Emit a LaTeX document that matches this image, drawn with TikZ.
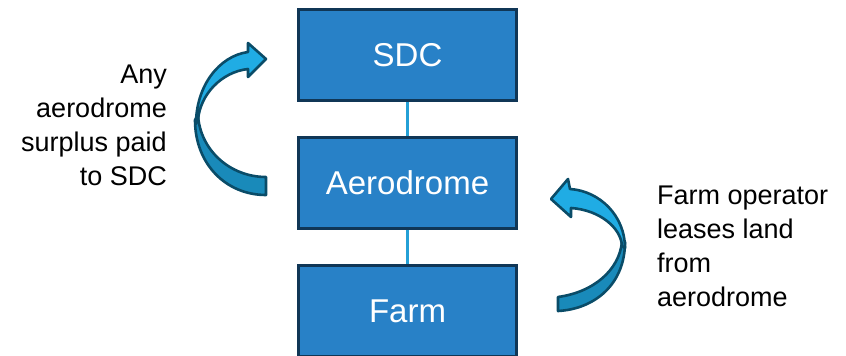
\documentclass[tikz,border=0pt]{standalone}
\usepackage{fontspec}
\setmainfont{Liberation Sans}
\usetikzlibrary{calc}

\definecolor{boxblue}{RGB}{40,129,199}
\definecolor{boxline}{RGB}{16,54,86}
\definecolor{linkblue}{RGB}{36,160,214}
\definecolor{arrowlight}{RGB}{32,172,228}
\definecolor{arrowdark}{RGB}{25,138,186}
\definecolor{arrowline}{RGB}{10,76,104}

\begin{document}
\begin{tikzpicture}[x=1pt, y=-1pt,
    block/.style={draw=boxline, line width=3pt, fill=boxblue, text=white,
        minimum width=218pt, minimum height=91pt, inner sep=0pt,
        font=\fontsize{33}{39}\selectfont},
    note/.style={inner sep=0pt, font=\fontsize{27}{34}\selectfont},
    link/.style={draw=linkblue, line width=2.2pt},
    twist/.style={draw=arrowline, line width=2.6pt, line join=round}]
    \useasboundingbox (0,0) rectangle (846,356);
    \clip (0,0) rectangle (846,356);

    \node[block] (sdc) at (407.5,55) {SDC};
    \node[block] (aero) at (407.5,183) {Aerodrome};
    \node[block] (farm) at (407.5,311) {Farm};

    \draw[link] (sdc) -- (aero);
    \draw[link] (aero) -- (farm);

    % surplus arrow, up to SDC
    \draw[twist, fill=arrowdark] (195,120) .. controls (195,164) and (226,195) .. (266,195)
        -- (266,177) .. controls (230,177) and (200,150) .. (198,115) -- cycle;
    \draw[twist, fill=arrowlight] (196,124) .. controls (196,86) and (219,56) .. (248,52)
        -- (248,43) -- (266,59) -- (248,77) -- (248,69)
        .. controls (221,72) and (200,95) .. (198,120) -- cycle;

    % lease arrow, up to aerodrome
    \draw[twist, fill=arrowdark] (625,242) .. controls (625,284) and (595,309) .. (558,311)
        -- (558,297) .. controls (594,292) and (619,270) .. (622,242) -- cycle;
    \draw[twist, fill=arrowlight] (625,248) .. controls (625,216) and (600,191) .. (570,189)
        -- (568,179) -- (551,199) -- (571,217) -- (571,208)
        .. controls (600,210) and (621,228) .. (622,246) -- cycle;

    \node[note, anchor=north east, align=right] (surplus) at (167,65)
        {Any\\aerodrome\\surplus paid\\to SDC};
    \node[note, anchor=north west, align=left] (lease) at (657,186)
        {Farm operator\\leases land\\from\\aerodrome};
\end{tikzpicture}
\end{document}
